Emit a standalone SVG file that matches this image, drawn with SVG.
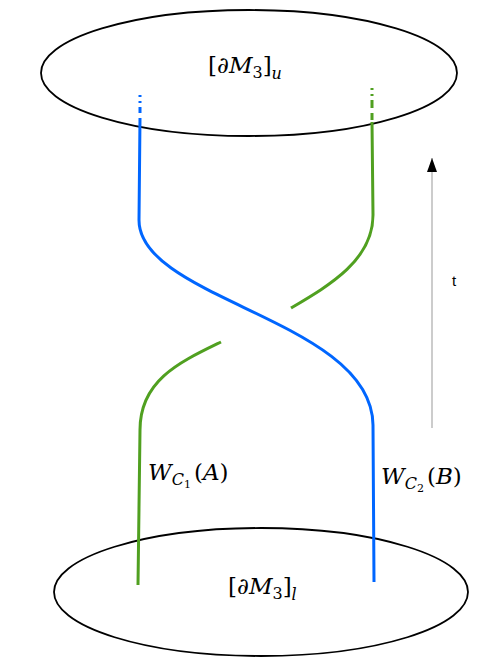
<svg xmlns="http://www.w3.org/2000/svg" width="498" height="664" viewBox="0 0 498 664">
<style>
.ell{fill:none;stroke:#000;stroke-width:1.8}
.blue{fill:none;stroke:#0066ff;stroke-width:3}
.green{fill:none;stroke:#50a020;stroke-width:3}
.m{font-family:"DejaVu Serif","Liberation Serif",serif;font-size:23px;fill:#000}
.i{font-style:italic}
.s{font-size:16px}
.t{font-family:"Liberation Sans",Arial,sans-serif;font-size:15px;fill:#000}
</style>
<defs>
<marker id="ah" markerWidth="14" markerHeight="10" refX="14" refY="5" orient="auto" markerUnits="userSpaceOnUse" viewBox="0 0 14 10">
<path d="M0,0 L14,5 L0,10 Z" fill="#000"/>
</marker>
</defs>
<g id="top-boundary">
<ellipse class="ell" cx="249" cy="73" rx="208" ry="63"/>
<text class="m" x="208" y="73">[∂<tspan class="i">M</tspan><tspan class="s" dy="5">3</tspan><tspan dy="-5">]</tspan><tspan class="i s" dy="6">u</tspan></text>
</g>
<g id="bottom-boundary">
<ellipse class="ell" cx="261" cy="592" rx="207" ry="64"/>
<text class="m" x="228" y="594">[∂<tspan class="i">M</tspan><tspan class="s" dy="5">3</tspan><tspan dy="-5">]</tspan><tspan class="i s" dy="6">l</tspan></text>
</g>
<g id="connectors">
<g id="wilson-A">
<path class="blue" d="M140,95 L140,97 M140,101 L140,103 M140,107 L140,113 M140,118 L139,220 C139,300 372,320 373,425 L374,582"/>
</g>
<g id="wilson-B">
<path class="green" d="M372,88 L372,90 M372,94 L372,96 M372,100 L372,108 M372,113 L372,120 M372,122 L373,215 C373,260 330,285 291,308"/>
<path class="green" d="M221,342 C180,362 140,380 140,430 L138,585"/>
</g>
<g id="time-arrow">
<line x1="432" y1="428" x2="432" y2="158" stroke="#aaaaaa" stroke-width="1.2" marker-end="url(#ah)"/>
</g>
</g>
<g id="labels">
<text class="t" x="452" y="286">t</text>
<text class="m" x="148" y="480"><tspan class="i">W</tspan><tspan class="i s" dy="5">C</tspan><tspan font-size="11" dy="3">1</tspan><tspan dx="3" dy="-8">(</tspan><tspan class="i">A</tspan>)</text>
<text class="m" x="381" y="484"><tspan class="i">W</tspan><tspan class="i s" dy="5">C</tspan><tspan font-size="11" dy="3">2</tspan><tspan dx="3" dy="-8">(</tspan><tspan class="i">B</tspan>)</text>
</g>
</svg>
